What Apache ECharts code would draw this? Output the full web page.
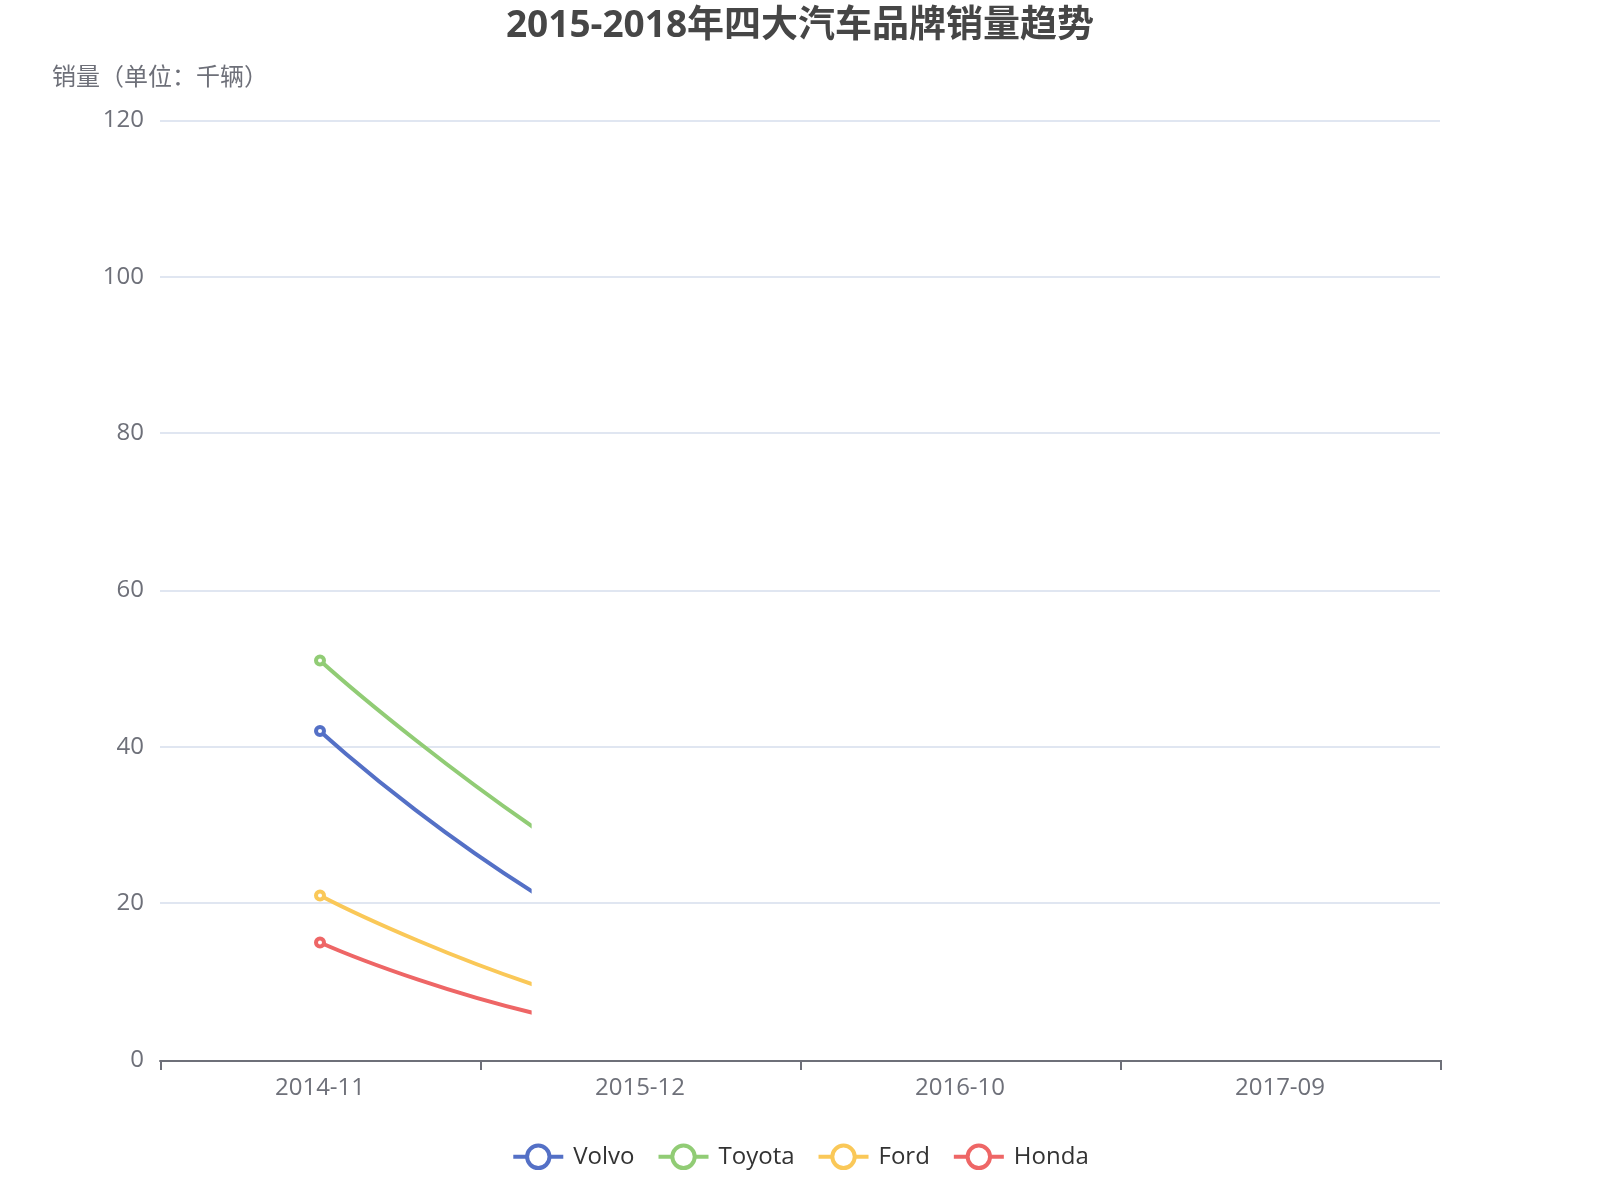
<!DOCTYPE html>
<html>
<head>
<meta charset="utf-8">
<script src="https://cdn.jsdelivr.net/npm/echarts@6/dist/echarts.min.js"></script>
<style>
html, body { margin: 0; padding: 0; background: #fff; }
#wrap { width: 1600px; height: 1200px; overflow: hidden; }
#chart { width: 800px; height: 600px; transform: scale(2); transform-origin: 0 0; }
</style>
</head>
<body>
<div id="wrap"><div id="chart"></div></div>
<script>
// ---- data ----
const months = ['2014-11', '2015-12', '2016-10', '2017-09'];
const brands = ['Volvo', 'Toyota', 'Ford', 'Honda'];
const volvo  = [42, 13.8, 2, 3];
const toyota = [51, 21, 3, 4];
const ford   = [21, 5.7, 1, 2];
const honda  = [15, 3.5, 1, 1];
const yMin = 0, yMax = 120, yInterval = 20;
const titleText = '2015-2018年四大汽车品牌销量趋势';
const yName = '销量（单位：千辆）';

// the reference is a frame of the line-reveal animation: lines are shown
// up to this share of the clip width (kept frozen there)
const revealShare = 0.291;

const palette = ['#5470c6', '#91cc75', '#fac858', '#ee6666'];
const seriesValues = [volvo, toyota, ford, honda];
const font = "'Open Sans', 'Noto Sans CJK SC', sans-serif";

const chart = echarts.init(document.getElementById('chart'), null, { renderer: 'canvas', devicePixelRatio: 2 });

const series = brands.map((name, i) => ({
  name: name,
  type: 'line',
  smooth: true,
  color: palette[i],
  symbol: 'emptyCircle',
  symbolSize: 4,
  lineStyle: { width: 2 },
  animation: true,
  animationDuration: 300,
  animationEasing: function () { return revealShare; },
  data: seriesValues[i].map((v, k) => k === 0 ? v : { value: v, symbol: 'none' })
}));

chart.setOption({
  animation: true,
  textStyle: { fontFamily: font },
  color: palette,
  title: {
    text: titleText,
    left: 'center',
    top: 4,
    padding: 0,
    textStyle: { fontSize: 18.5, fontWeight: 'bold', color: '#464646', fontFamily: font }
  },
  legend: {
    data: brands,
    bottom: 10,
    itemWidth: 25,
    itemHeight: 14,
    itemGap: 11,
    textStyle: { color: '#333', fontSize: 12 }
  },
  grid: { left: 80, right: 80, top: 60, bottom: 70 },
  xAxis: {
    type: 'category',
    data: months,
    axisLine: { show: true, lineStyle: { color: '#6E7079', width: 1 } },
    axisTick: { show: true, length: 5, lineStyle: { color: '#6E7079', width: 1 } },
    axisLabel: { color: '#6E7079', fontSize: 12, margin: 8 },
    splitLine: { show: false }
  },
  yAxis: {
    type: 'value',
    name: yName,
    nameGap: 15,
    min: yMin,
    max: yMax,
    interval: yInterval,
    nameTextStyle: { color: '#6E7079', fontSize: 12 },
    axisLine: { show: false },
    axisTick: { show: false },
    axisLabel: { color: '#6E7079', fontSize: 12, margin: 8 },
    splitLine: { show: true, lineStyle: { color: '#E0E6F1', width: 1 } }
  },
  series: series
});
</script>
</body>
</html>
